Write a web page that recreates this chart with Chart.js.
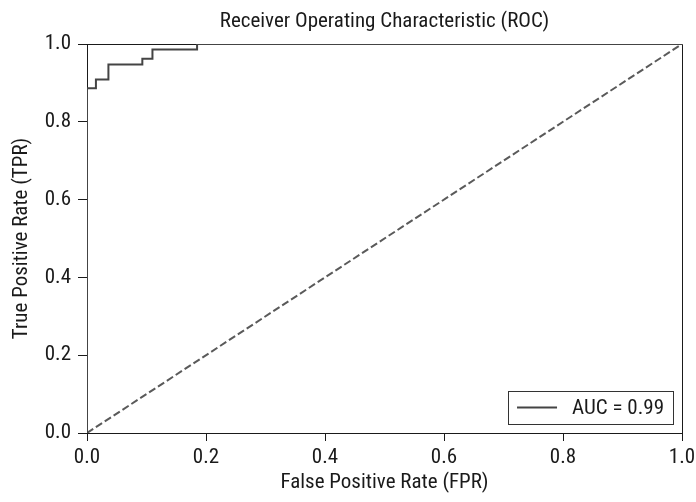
<!DOCTYPE html>
<html><head><meta charset="utf-8">
<script src="https://cdn.jsdelivr.net/npm/chart.js@4/dist/chart.umd.min.js"></script>
<style>html,body{margin:0;padding:0;background:#fff}#wrap{width:696px;height:502px}</style>
</head><body><div id="wrap"><canvas id="c" width="696" height="502"></canvas></div>
<script>
// ROC curve points (FPR, TPR)
const fpr = [0.0, 0.0, 0.015, 0.036, 0.093, 0.110, 0.185, 1.0];
const tpr = [0.0, 0.886, 0.909, 0.947, 0.962, 0.986, 1.0, 1.0];
// chance diagonal
const chanceX = [0, 1];
const chanceY = [0, 1];
const xTicks = [0.0, 0.2, 0.4, 0.6, 0.8, 1.0];
const yTicks = [0.0, 0.2, 0.4, 0.6, 0.8, 1.0];
const aucLabel = 'AUC = 0.99';
const titleText = 'Receiver Operating Characteristic (ROC)';
const xTitle = 'False Positive Rate (FPR)';
const yTitle = 'True Positive Rate (TPR)';

const FONT = "'Roboto Condensed', 'DejaVu Sans Condensed', sans-serif";
const FS = 21;
const INK = '#1a1a1a';

const rocData = fpr.map((x, i) => ({x: x, y: tpr[i]}));
const chanceData = chanceX.map((x, i) => ({x: x, y: chanceY[i]}));

const framePlugin = {
  id: 'frame',
  beforeDatasetsDraw(chart) {
    const {ctx, chartArea: a} = chart;
    ctx.save();
    ctx.strokeStyle = INK;
    ctx.lineWidth = 1;
    ctx.beginPath();
    ctx.moveTo(a.left, a.top + 0.5);
    ctx.lineTo(a.right + 0.5, a.top + 0.5);
    ctx.lineTo(a.right + 0.5, a.bottom);
    ctx.stroke();
    ctx.restore();
  },
  afterDraw(chart) {
    const {ctx, chartArea: a} = chart;
    ctx.save();
    // title centred over the plot area
    ctx.font = FS + 'px ' + FONT;
    ctx.fillStyle = INK;
    ctx.textAlign = 'center';
    ctx.textBaseline = 'middle';
    ctx.fillText(titleText, (a.left + a.right) / 2, 22);
    // legend box
    const tw = ctx.measureText(aucLabel).width;
    const pad = 9, hl = 40, gap = 15;
    const right = a.right - 9, bottom = a.bottom - 9;
    const h = 33;
    const w = pad + hl + gap + tw + pad;
    const left = right - w, top = bottom - h;
    ctx.fillStyle = '#fff';
    ctx.fillRect(left, top, w, h);
    ctx.strokeStyle = '#333';
    ctx.lineWidth = 1;
    ctx.strokeRect(Math.round(left) + 0.5, Math.round(top) + 0.5, Math.round(w), Math.round(h));
    const cy = top + h / 2;
    ctx.strokeStyle = '#444';
    ctx.lineWidth = 2;
    ctx.beginPath();
    ctx.moveTo(left + pad, cy);
    ctx.lineTo(left + pad + hl, cy);
    ctx.stroke();
    ctx.fillStyle = INK;
    ctx.textBaseline = 'middle';
    ctx.textAlign = 'left';
    ctx.fillText(aucLabel, left + pad + hl + gap, cy + 1);
    ctx.restore();
  }
};

new Chart(document.getElementById('c'), {
  type: 'scatter',
  data: {
    datasets: [
      {
        label: aucLabel,
        data: rocData,
        showLine: true,
        stepped: 'before',
        borderColor: '#444',
        borderWidth: 2,
        pointRadius: 0,
        fill: false,
        borderCapStyle: 'butt',
        borderJoinStyle: 'miter'
      },
      {
        label: 'chance',
        data: chanceData,
        showLine: true,
        borderColor: '#5a5a5a',
        borderWidth: 2,
        borderDash: [7.4, 3.2],
        pointRadius: 0,
        fill: false
      }
    ]
  },
  options: {
    responsive: false,
    animation: false,
    devicePixelRatio: 1,
    layout: {padding: {top: 44, right: 14, bottom: 0, left: 0}},
    plugins: {
      legend: {display: false},
      tooltip: {enabled: false},
      title: {display: false}
    },
    scales: {
      x: {
        type: 'linear', min: 0, max: 1,
        afterBuildTicks: s => { s.ticks = xTicks.map(v => ({value: v})); },
        afterFit: s => { s.height = 69; s.paddingLeft = 0; s.paddingRight = 0; },
        ticks: {
          callback: v => Number(v).toFixed(1),
          color: INK, font: {family: FONT, size: FS}, padding: 4, maxRotation: 0
        },
        grid: {display: true, drawOnChartArea: false, drawTicks: true, tickLength: 8, tickColor: INK, tickWidth: 1},
        border: {display: true, color: INK, width: 1},
        title: {display: true, text: xTitle, color: INK, font: {family: FONT, size: FS}, padding: {top: 0, bottom: 7}}
      },
      y: {
        type: 'linear', min: 0, max: 1,
        afterBuildTicks: s => { s.ticks = yTicks.map(v => ({value: v})); },
        afterFit: s => { s.width = 87; s.paddingTop = 0; s.paddingBottom = 0; },
        ticks: {
          callback: v => Number(v).toFixed(1),
          color: INK, font: {family: FONT, size: FS}, padding: 7
        },
        grid: {display: true, drawOnChartArea: false, drawTicks: true, tickLength: 9, tickColor: INK, tickWidth: 1},
        border: {display: true, color: INK, width: 1},
        title: {display: true, text: yTitle, color: INK, font: {family: FONT, size: FS}, padding: {top: 9, bottom: 0}}
      }
    }
  },
  plugins: [framePlugin]
});
</script>
</body></html>
